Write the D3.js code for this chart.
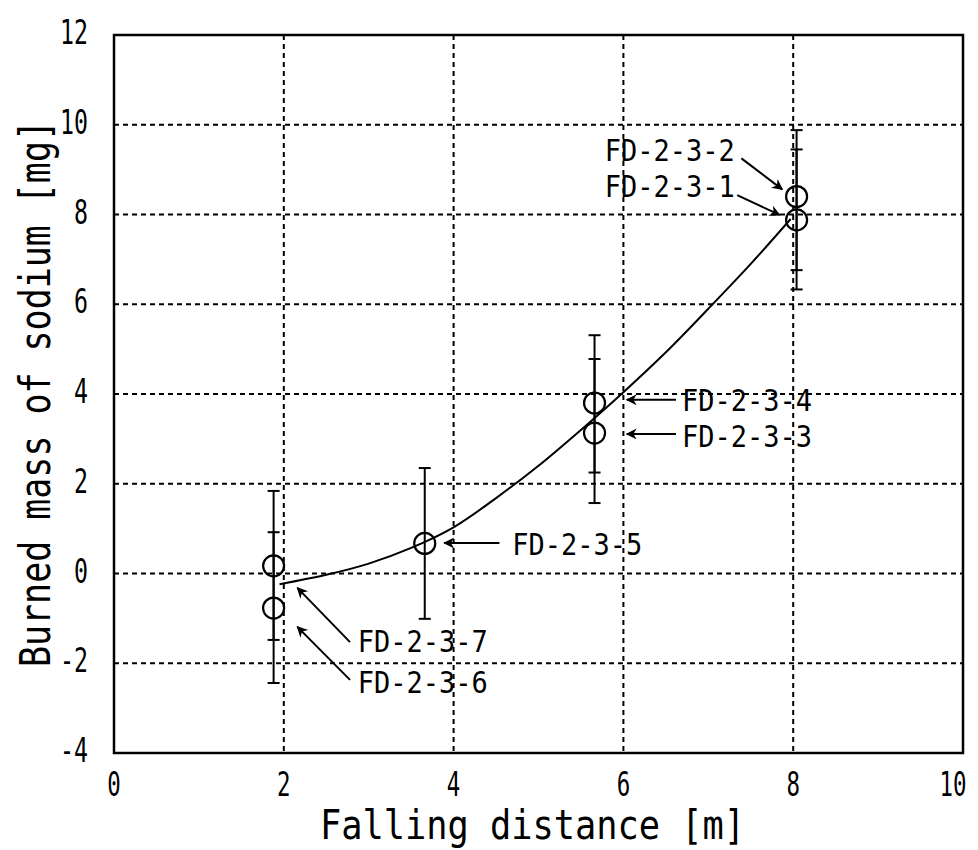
<!DOCTYPE html>
<html>
<head>
<meta charset="utf-8">
<script src="https://cdn.jsdelivr.net/npm/d3@7"></script>
<style>
  body { margin: 0; background: #fff; }
  text { font-family: "DejaVu Sans Mono", "Liberation Mono", monospace; fill: #000; }
</style>
</head>
<body>
<script>
// measured runs
var runNames = ["FD-2-3-1", "FD-2-3-2", "FD-2-3-3", "FD-2-3-4", "FD-2-3-5", "FD-2-3-6", "FD-2-3-7"],
    runDist  = [8.04, 8.04, 5.66, 5.66, 3.66, 1.88, 1.88],
    runMass  = [7.88, 8.40, 3.13, 3.80, 0.67, -0.77, 0.17],
    runLow   = [6.33, 6.76, 1.57, 2.25, -1.01, -2.44, -1.48],
    runHigh  = [9.45, 9.88, 4.78, 5.31, 2.35, 0.92, 1.84];

// fitted curve
var fitX = [1.95, 2.5, 3.0, 3.5, 4.0, 4.5, 5.0, 5.5, 6.0, 6.5, 7.0, 7.5, 7.97],
    fitY = [-0.24, -0.03, 0.22, 0.57, 1.03, 1.68, 2.4, 3.2, 4.04, 4.93, 5.9, 6.9, 7.9];

var xTicks = [0, 2, 4, 6, 8, 10],
    yTicks = [-4, -2, 0, 2, 4, 6, 8, 10, 12];

// label anchors and arrows, in data units: [textX, textY, fromX, fromY, toX, toY]
var labelSpots = [
  [5.78, 8.39, 7.34, 8.43, 7.84, 7.99],
  [5.78, 9.19, 7.39, 9.25, 7.87, 8.56],
  [6.69, 2.82, 6.62, 3.11, 6.04, 3.11],
  [6.69, 3.63, 6.62, 3.87, 6.04, 3.87],
  [4.69, 0.41, 4.54, 0.68, 3.89, 0.68],
  [2.87, -2.66, 2.78, -2.37, 2.16, -1.19],
  [2.87, -1.75, 2.78, -1.53, 2.16, -0.32]
];

var m = [35, 15, 97, 114],   // top, right, bottom, left
    W = 978, H = 850,
    w = W - m[1] - m[3],
    h = H - m[0] - m[2];

var x = d3.scaleLinear().domain([0, 10]).range([0, w]),
    y = d3.scaleLinear().domain([-4, 12]).range([h, 0]);

var svg = d3.select("body").append("svg")
    .attr("width", W)
    .attr("height", H);

svg.append("defs").append("marker")
    .attr("id", "head")
    .attr("viewBox", "0 0 10 10")
    .attr("refX", 9).attr("refY", 5)
    .attr("markerWidth", 14).attr("markerHeight", 11)
    .attr("markerUnits", "userSpaceOnUse")
    .attr("orient", "auto")
  .append("path")
    .attr("d", "M0,0 L10,5 L0,10 L3,5 Z")
    .attr("fill", "#000");

var g = svg.append("g")
    .attr("transform", "translate(" + m[3] + "," + m[0] + ")");

// dashed grid
g.selectAll(".vgrid")
    .data(xTicks.slice(1, -1))
  .enter().append("line")
    .attr("x1", x).attr("x2", x)
    .attr("y1", 0).attr("y2", h)
    .attr("stroke", "#000").attr("stroke-width", 2)
    .attr("stroke-dasharray", "5,4");

g.selectAll(".hgrid")
    .data(yTicks.slice(1, -1))
  .enter().append("line")
    .attr("y1", y).attr("y2", y)
    .attr("x1", 0).attr("x2", w)
    .attr("stroke", "#000").attr("stroke-width", 2)
    .attr("stroke-dasharray", "5,4");

// frame
g.append("rect")
    .attr("width", w).attr("height", h)
    .attr("fill", "none")
    .attr("stroke", "#000").attr("stroke-width", 2.5);

// tick labels (kept inside the page on the right)
g.selectAll(".xlab")
    .data(xTicks)
  .enter().append("text")
    .attr("x", function(d) { return Math.min(x(d), w - 10); })
    .attr("y", h + 43)
    .attr("text-anchor", "middle")
    .attr("font-size", 33)
    .attr("textLength", function(d) { return String(d).length * 13.5; })
    .attr("lengthAdjust", "spacingAndGlyphs")
    .text(String);

g.selectAll(".ylab")
    .data(yTicks)
  .enter().append("text")
    .attr("x", -26)
    .attr("y", function(d) { return y(d) + 9; })
    .attr("text-anchor", "end")
    .attr("font-size", 34)
    .attr("textLength", function(d) { return String(d).length * 14; })
    .attr("lengthAdjust", "spacingAndGlyphs")
    .text(String);

// axis titles
svg.append("text")
    .attr("x", 320).attr("y", 839)
    .attr("font-size", 40)
    .attr("textLength", 425)
    .attr("lengthAdjust", "spacingAndGlyphs")
    .text("Falling distance [m]");

svg.append("text")
    .attr("transform", "translate(50,667) rotate(-90)")
    .attr("font-size", 42)
    .attr("textLength", 547)
    .attr("lengthAdjust", "spacingAndGlyphs")
    .text("Burned mass of sodium [mg]");

// fitted curve
var line = d3.line()
    .x(function(d) { return x(d[0]); })
    .y(function(d) { return y(d[1]); })
    .curve(d3.curveCatmullRom);

g.append("path")
    .datum(fitX.map(function(v, i) { return [v, fitY[i]]; }))
    .attr("d", line)
    .attr("fill", "none")
    .attr("stroke", "#000")
    .attr("stroke-width", 2);

// error bars and circles
var runs = runNames.map(function(n, i) {
  return { name: n, dist: runDist[i], mass: runMass[i], lo: runLow[i], hi: runHigh[i], spot: labelSpots[i] };
});

var bars = g.selectAll(".run")
    .data(runs)
  .enter().append("g");

bars.append("line")
    .attr("x1", function(d) { return x(d.dist); })
    .attr("x2", function(d) { return x(d.dist); })
    .attr("y1", function(d) { return y(d.lo); })
    .attr("y2", function(d) { return y(d.hi); })
    .attr("stroke", "#000").attr("stroke-width", 2);

["lo", "hi"].forEach(function(k) {
  bars.append("line")
      .attr("x1", function(d) { return x(d.dist) - 6; })
      .attr("x2", function(d) { return x(d.dist) + 6; })
      .attr("y1", function(d) { return y(d[k]); })
      .attr("y2", function(d) { return y(d[k]); })
      .attr("stroke", "#000").attr("stroke-width", 2);
});

bars.append("circle")
    .attr("cx", function(d) { return x(d.dist); })
    .attr("cy", function(d) { return y(d.mass); })
    .attr("r", 10.5)
    .attr("fill", "none")
    .attr("stroke", "#000").attr("stroke-width", 2.2);

// labels with arrows
bars.append("line")
    .attr("x1", function(d) { return x(d.spot[2]); })
    .attr("y1", function(d) { return y(d.spot[3]); })
    .attr("x2", function(d) { return x(d.spot[4]); })
    .attr("y2", function(d) { return y(d.spot[5]); })
    .attr("stroke", "#000").attr("stroke-width", 2)
    .attr("marker-end", "url(#head)");

bars.append("text")
    .attr("x", function(d) { return x(d.spot[0]); })
    .attr("y", function(d) { return y(d.spot[1]); })
    .attr("font-size", 31)
    .attr("textLength", 130)
    .attr("lengthAdjust", "spacingAndGlyphs")
    .text(function(d) { return d.name; });
</script>
</body>
</html>
